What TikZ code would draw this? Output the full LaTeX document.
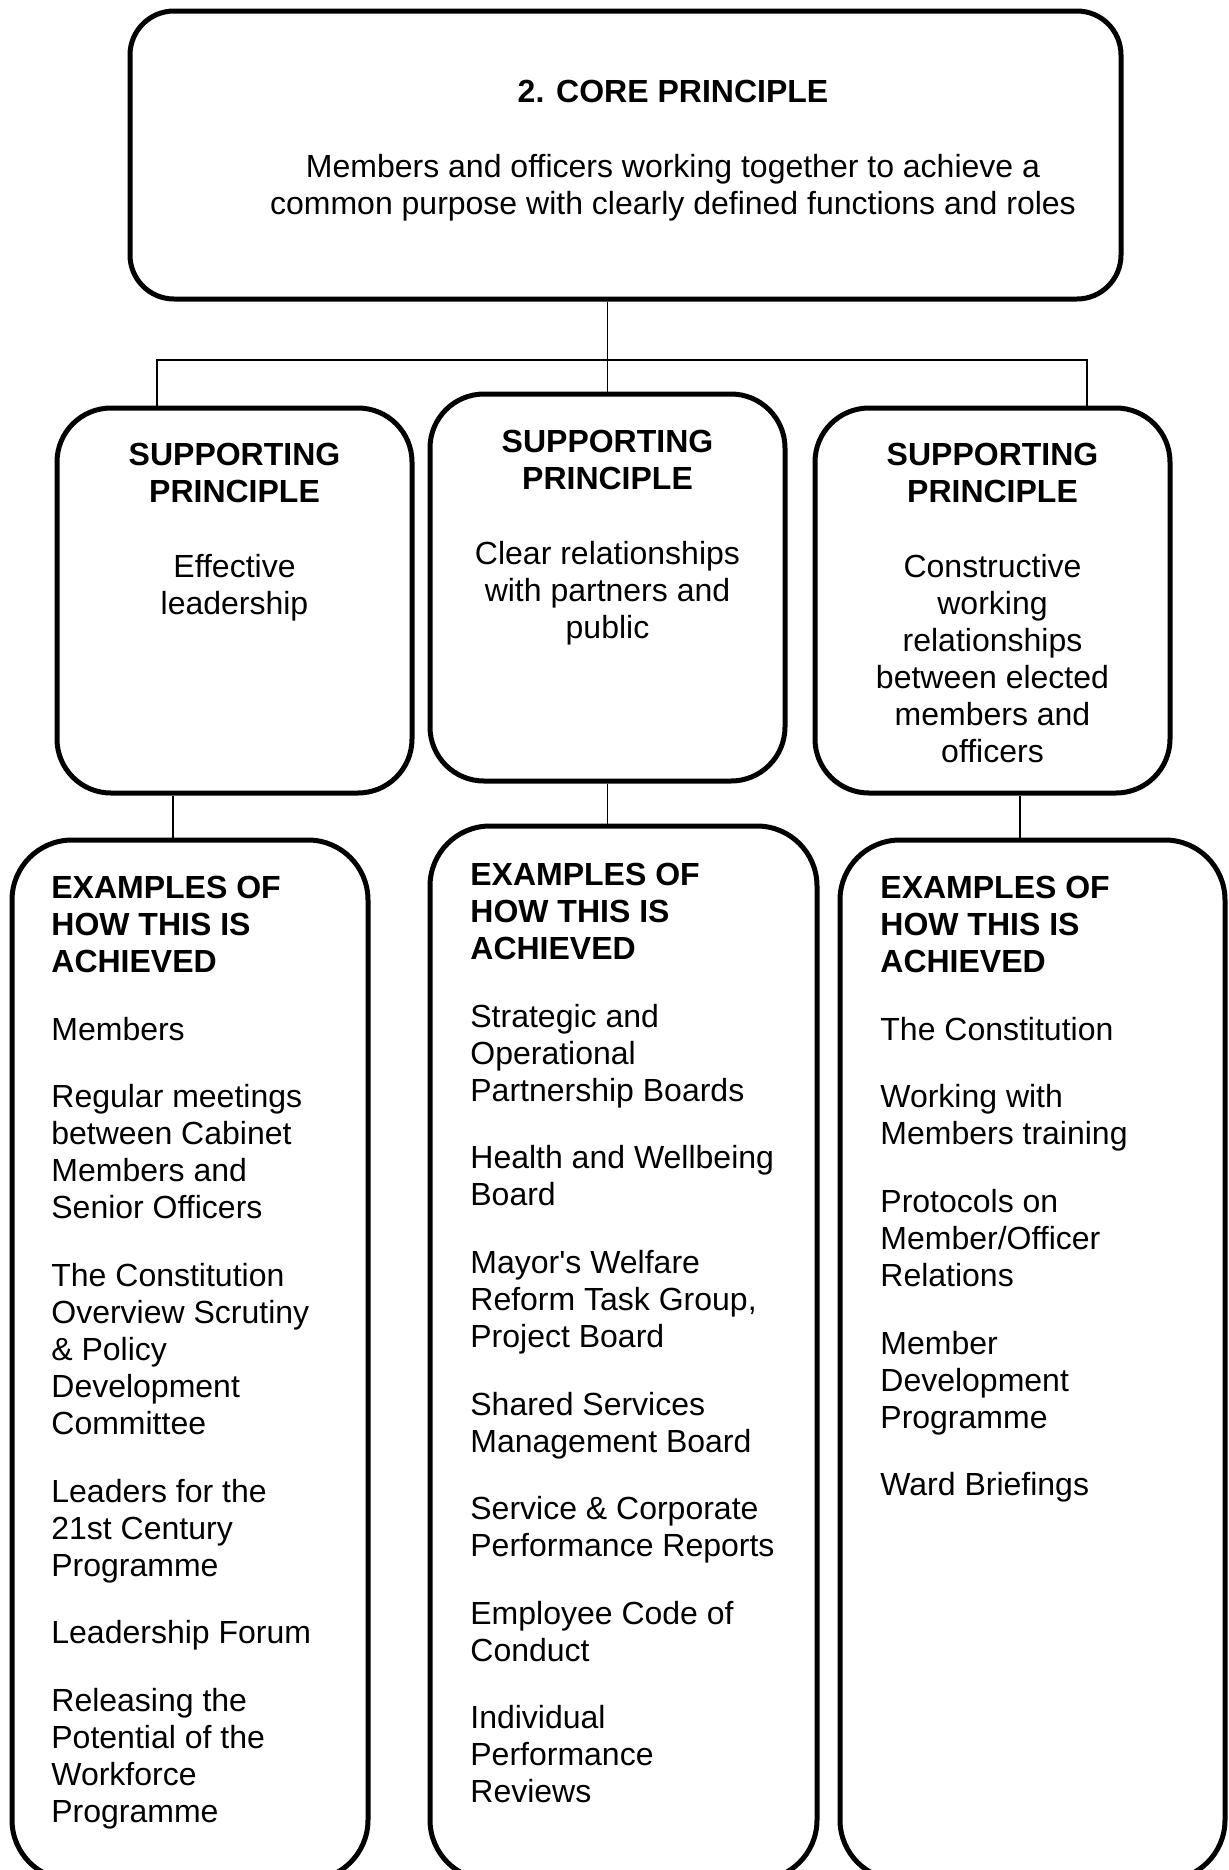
\documentclass[tikz,border=0pt]{standalone}
\usepackage{fontspec}
\setmainfont{Liberation Sans}
\tikzset{
  box/.style={draw, line width=2.5pt, inner sep=0pt},
  link/.style={line width=0.8pt},
  body/.style={inner sep=0pt, font=\fontsize{16pt}{18.5pt}\selectfont},
}
\newcommand{\blankline}{\\[19pt]}
\newcommand{\itemgap}{\\[15.3pt]}

\begin{document}
\begin{tikzpicture}[x=0.5pt,y=-0.5pt]
\useasboundingbox (0,0) rectangle (1229,1870);
\clip (0,0) rectangle (1229,1870);

% frames
\node[box, rounded corners=22pt, minimum width=495.5pt, minimum height=144pt] (core) at (625.5,155) {};
\node[box, rounded corners=27pt, minimum width=177.5pt, minimum height=192.5pt] (sup1) at (234.5,600.5) {};
\node[box, rounded corners=27pt, minimum width=177.5pt, minimum height=193.5pt] (sup2) at (607.5,587.5) {};
\node[box, rounded corners=27pt, minimum width=177.5pt, minimum height=192.5pt] (sup3) at (992.5,600.5) {};
\node[box, rounded corners=30pt, minimum width=178pt, minimum height=520pt] (ex1) at (190,1360) {};
\node[box, rounded corners=30pt, minimum width=193.5pt, minimum height=527pt] (ex2) at (623.5,1353) {};
\node[box, rounded corners=30pt, minimum width=192.5pt, minimum height=520pt] (ex3) at (1032.5,1360) {};

% tree lines
\coordinate (bl) at (157,360);
\coordinate (br) at (1087,360);
\coordinate (dl) at (173,0);
\coordinate (dr) at (1020,0);
\draw[link] (core.south -| sup2.north) -- (sup2.north);
\draw[link] (sup1.north -| bl) -- (bl) -- (br) -- (sup3.north -| br);
\draw[link] (sup1.south -| dl) -- (ex1.north -| dl);
\draw[link] (sup2.south) -- (ex2.north -| sup2.south);
\draw[link] (sup3.south -| dr) -- (ex3.north -| dr);

% texts
\node[body, anchor=north, align=center] (coretxt) at (673,80)
  {\textbf{2. CORE PRINCIPLE}\blankline
   Members and officers working together to achieve a\\
   common purpose with clearly defined functions and roles};

\node[body, anchor=north, align=center] (sup1txt) at (234.5,443)
  {\textbf{SUPPORTING}\\ \textbf{PRINCIPLE}\blankline
   Effective\\ leadership};
\node[body, anchor=north, align=center] (sup2txt) at (607.5,430)
  {\textbf{SUPPORTING}\\ \textbf{PRINCIPLE}\blankline
   Clear relationships\\ with partners and\\ public};
\node[body, anchor=north, align=center] (sup3txt) at (992.5,443)
  {\textbf{SUPPORTING}\\ \textbf{PRINCIPLE}\blankline
   Constructive\\ working\\ relationships\\ between elected\\ members and\\ officers};

\node[body, anchor=north west, align=left] (ex1txt) at (51,876)
  {\textbf{EXAMPLES OF}\\ \textbf{HOW THIS IS}\\ \textbf{ACHIEVED}\itemgap
   Members\itemgap
   Regular meetings\\ between Cabinet\\ Members and\\ Senior Officers\itemgap
   The Constitution\\ Overview Scrutiny\\ \& Policy\\ Development\\ Committee\itemgap
   Leaders for the\\ 21st Century\\ Programme\itemgap
   Leadership Forum\itemgap
   Releasing the\\ Potential of the\\ Workforce\\ Programme};
\node[body, anchor=north west, align=left] (ex2txt) at (470,863)
  {\textbf{EXAMPLES OF}\\ \textbf{HOW THIS IS}\\ \textbf{ACHIEVED}\itemgap
   Strategic and\\ Operational\\ Partnership Boards\itemgap
   Health and Wellbeing\\ Board\itemgap
   Mayor\textquotesingle s Welfare\\ Reform Task Group,\\ Project Board\itemgap
   Shared Services\\ Management Board\itemgap
   Service \& Corporate\\ Performance Reports\itemgap
   Employee Code of\\ Conduct\itemgap
   Individual\\ Performance\\ Reviews};
\node[body, anchor=north west, align=left] (ex3txt) at (880,876)
  {\textbf{EXAMPLES OF}\\ \textbf{HOW THIS IS}\\ \textbf{ACHIEVED}\itemgap
   The Constitution\itemgap
   Working with\\ Members training\itemgap
   Protocols on\\ Member/Officer\\ Relations\itemgap
   Member\\ Development\\ Programme\itemgap
   Ward Briefings};
\end{tikzpicture}
\end{document}
